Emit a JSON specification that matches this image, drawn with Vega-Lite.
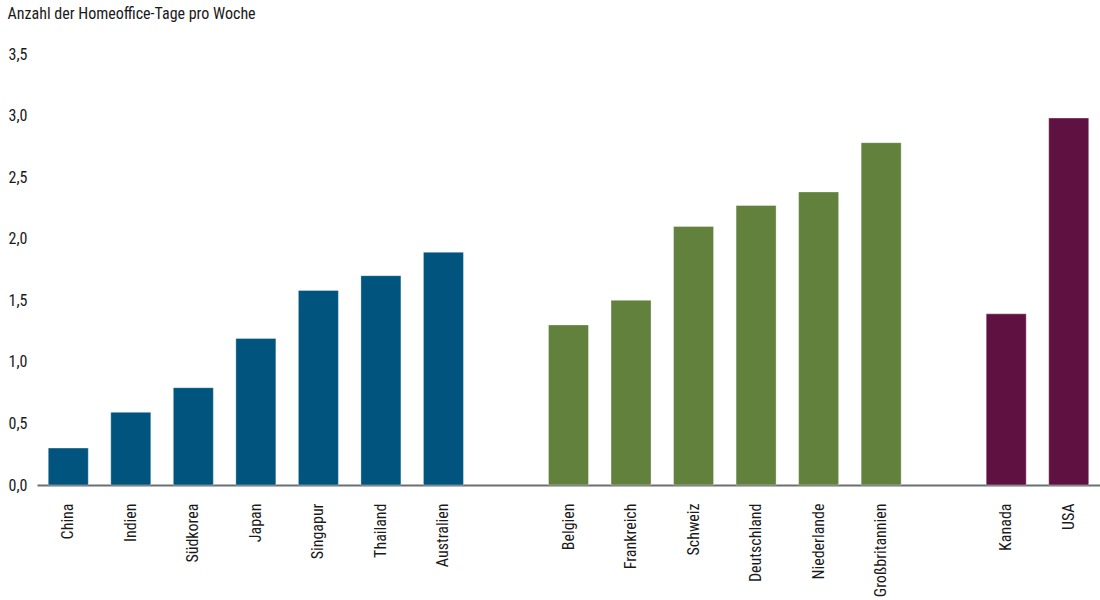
{
  "$schema": "https://vega.github.io/schema/vega-lite/v6.json",
  "width": 1063,
  "height": 431,
  "autosize": "none",
  "padding": {"left": 37, "top": 54, "right": 0, "bottom": 115},
  "background": "white",
  "config": {
    "view": {"stroke": null},
    "font": "Roboto Condensed, Liberation Sans Narrow, Roboto",
    "axis": {"labelFont": "Roboto Condensed, Liberation Sans Narrow, Roboto", "titleFont": "Roboto Condensed, Liberation Sans Narrow, Roboto", "labelFontWeight": "normal"}
  },
  "data": {
    "values": [
      {"land": "China", "tage": 0.3, "region": "Asien"},
      {"land": "Indien", "tage": 0.59, "region": "Asien"},
      {"land": "Südkorea", "tage": 0.79, "region": "Asien"},
      {"land": "Japan", "tage": 1.19, "region": "Asien"},
      {"land": "Singapur", "tage": 1.58, "region": "Asien"},
      {"land": "Thailand", "tage": 1.7, "region": "Asien"},
      {"land": "Australien", "tage": 1.89, "region": "Asien"},
      {"land": "Belgien", "tage": 1.3, "region": "Europa"},
      {"land": "Frankreich", "tage": 1.5, "region": "Europa"},
      {"land": "Schweiz", "tage": 2.1, "region": "Europa"},
      {"land": "Deutschland", "tage": 2.27, "region": "Europa"},
      {"land": "Niederlande", "tage": 2.38, "region": "Europa"},
      {"land": "Großbritannien", "tage": 2.78, "region": "Europa"},
      {"land": "Kanada", "tage": 1.39, "region": "Nordamerika"},
      {"land": "USA", "tage": 2.98, "region": "Nordamerika"}
    ]
  },
  "mark": {"type": "bar", "stroke": "#ffffff", "strokeOpacity": 0.35, "strokeWidth": 1},
  "encoding": {
    "x": {
      "field": "land",
      "type": "nominal",
      "scale": {
        "domain": ["China", "Indien", "Südkorea", "Japan", "Singapur", "Thailand", "Australien", "gap1",
                   "Belgien", "Frankreich", "Schweiz", "Deutschland", "Niederlande", "Großbritannien", "gap2",
                   "Kanada", "USA"],
        "paddingInner": 0.36,
        "paddingOuter": 0.18
      },
      "axis": {
        "title": null,
        "labelAngle": -90,
        "labelAlign": "right",
        "labelBaseline": "middle",
        "labelPadding": 18,
        "labelFontSize": 16,
        "labelColor": "#1a1a1a",
        "labelExpr": "indexof(datum.label, 'gap') == 0 ? '' : datum.label",
        "ticks": false,
        "domainColor": "#6b6e73",
        "domainWidth": 2
      }
    },
    "y": {
      "field": "tage",
      "type": "quantitative",
      "scale": {"domain": [0, 3.5], "nice": false},
      "axis": {
        "title": "Anzahl der Homeoffice-Tage pro Woche",
        "titleAngle": 0,
        "titleAlign": "left",
        "titleBaseline": "top",
        "titleX": -30,
        "titleY": -49,
        "titleFontSize": 16,
        "titleFontWeight": "normal",
        "titleColor": "#1a1a1a",
        "values": [0, 0.5, 1, 1.5, 2, 2.5, 3, 3.5],
        "labelExpr": "replace(format(datum.value, '.1f'), '.', ',')",
        "labelFontSize": 16,
        "labelColor": "#1a1a1a",
        "labelPadding": 10,
        "ticks": false,
        "domain": false,
        "grid": false
      }
    },
    "color": {
      "field": "region",
      "type": "nominal",
      "scale": {"domain": ["Asien", "Europa", "Nordamerika"], "range": ["#01547d", "#62813d", "#5f1242"]},
      "legend": null
    }
  }
}
